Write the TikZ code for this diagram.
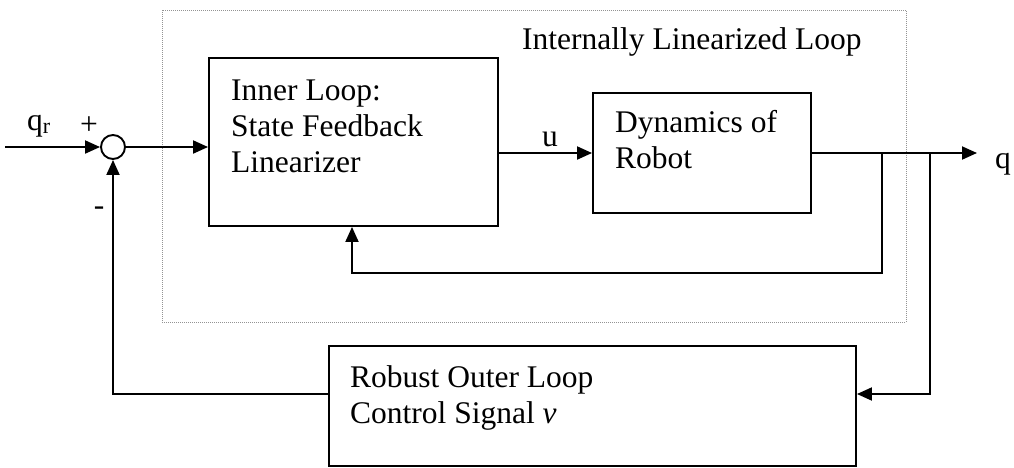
\documentclass[tikz,border=0pt]{standalone}
\usepackage{fontspec}
\setmainfont{Liberation Serif}
\usetikzlibrary{arrows.meta}
\begin{document}
\begin{tikzpicture}[x=1pt,y=-1pt,
  blockbox/.style={draw,line width=1.9pt,inner sep=0pt},
  sumnode/.style={draw,circle,line width=1.9pt,minimum size=24pt,inner sep=0pt},
  wire/.style={line width=1.9pt},
  arr/.style={wire,-{Triangle[length=15pt,width=13pt]}},
  txt/.style={anchor=base west,inner sep=0pt,font=\fontsize{31.5}{36}\selectfont},
  txtc/.style={anchor=base,inner sep=0pt,font=\fontsize{31.5}{36}\selectfont}]
\useasboundingbox (0,0) rectangle (1014,467);
% dotted enclosure
\draw[gray!85,line width=1pt,dash pattern=on 1pt off 1pt] (162,10) rectangle (906,322);
% blocks
\node[blockbox,minimum width=289pt,minimum height=168pt] (inner) at (353.5,142) {};
\node[blockbox,minimum width=218pt,minimum height=120pt] (dyn) at (702,153) {};
\node[blockbox,minimum width=527pt,minimum height=120pt] (robust) at (592.5,406) {};
\node[sumnode] (sum) at (113,147) {};
% texts
\node[txt] (title) at (522,49) {Internally Linearized Loop};
\node[txt] (in1) at (231,100) {Inner Loop:};
\node[txt] (in2) at (231,136) {State Feedback};
\node[txt] (in3) at (231,172) {Linearizer};
\node[txt] (dy1) at (615,132) {Dynamics of};
\node[txt] (dy2) at (615,168) {Robot};
\node[txt] (ro1) at (350,387) {Robust Outer Loop};
\node[txt] (ro2) at (350,423) {Control Signal \textit{v}};
\node[txt] (qr) at (27,130) {q\textsubscript{r}};
\node[txtc] (plus) at (89,134) {+};
\node[txtc] (minus) at (99,215) {-};
\node[txtc] (ulab) at (550,146) {u};
\node[txtc] (qout) at (1003,168) {q};
% coordinates
\coordinate (inp) at (5,147);
\coordinate (outp) at (977,153);
\coordinate (j1) at (882,153);
\coordinate (j2) at (930,153);
\coordinate (fb1) at (352,273);
\coordinate (fb2) at (930,394);
% connectors
\draw[arr] (inp) -- (sum.west);
\draw[arr] (sum.east) -- (sum.east -| inner.west);
\draw[arr] (dyn.west -| inner.east) -- (dyn.west);
\draw[arr] (dyn.east) -- (outp);
\draw[arr] (j1) |- (fb1) -- (fb1 |- inner.south);
\draw[arr] (j2) -- (fb2) -- (fb2 -| robust.east);
\draw[arr] (fb2 -| robust.west) -| (sum.south);
\end{tikzpicture}
\end{document}
